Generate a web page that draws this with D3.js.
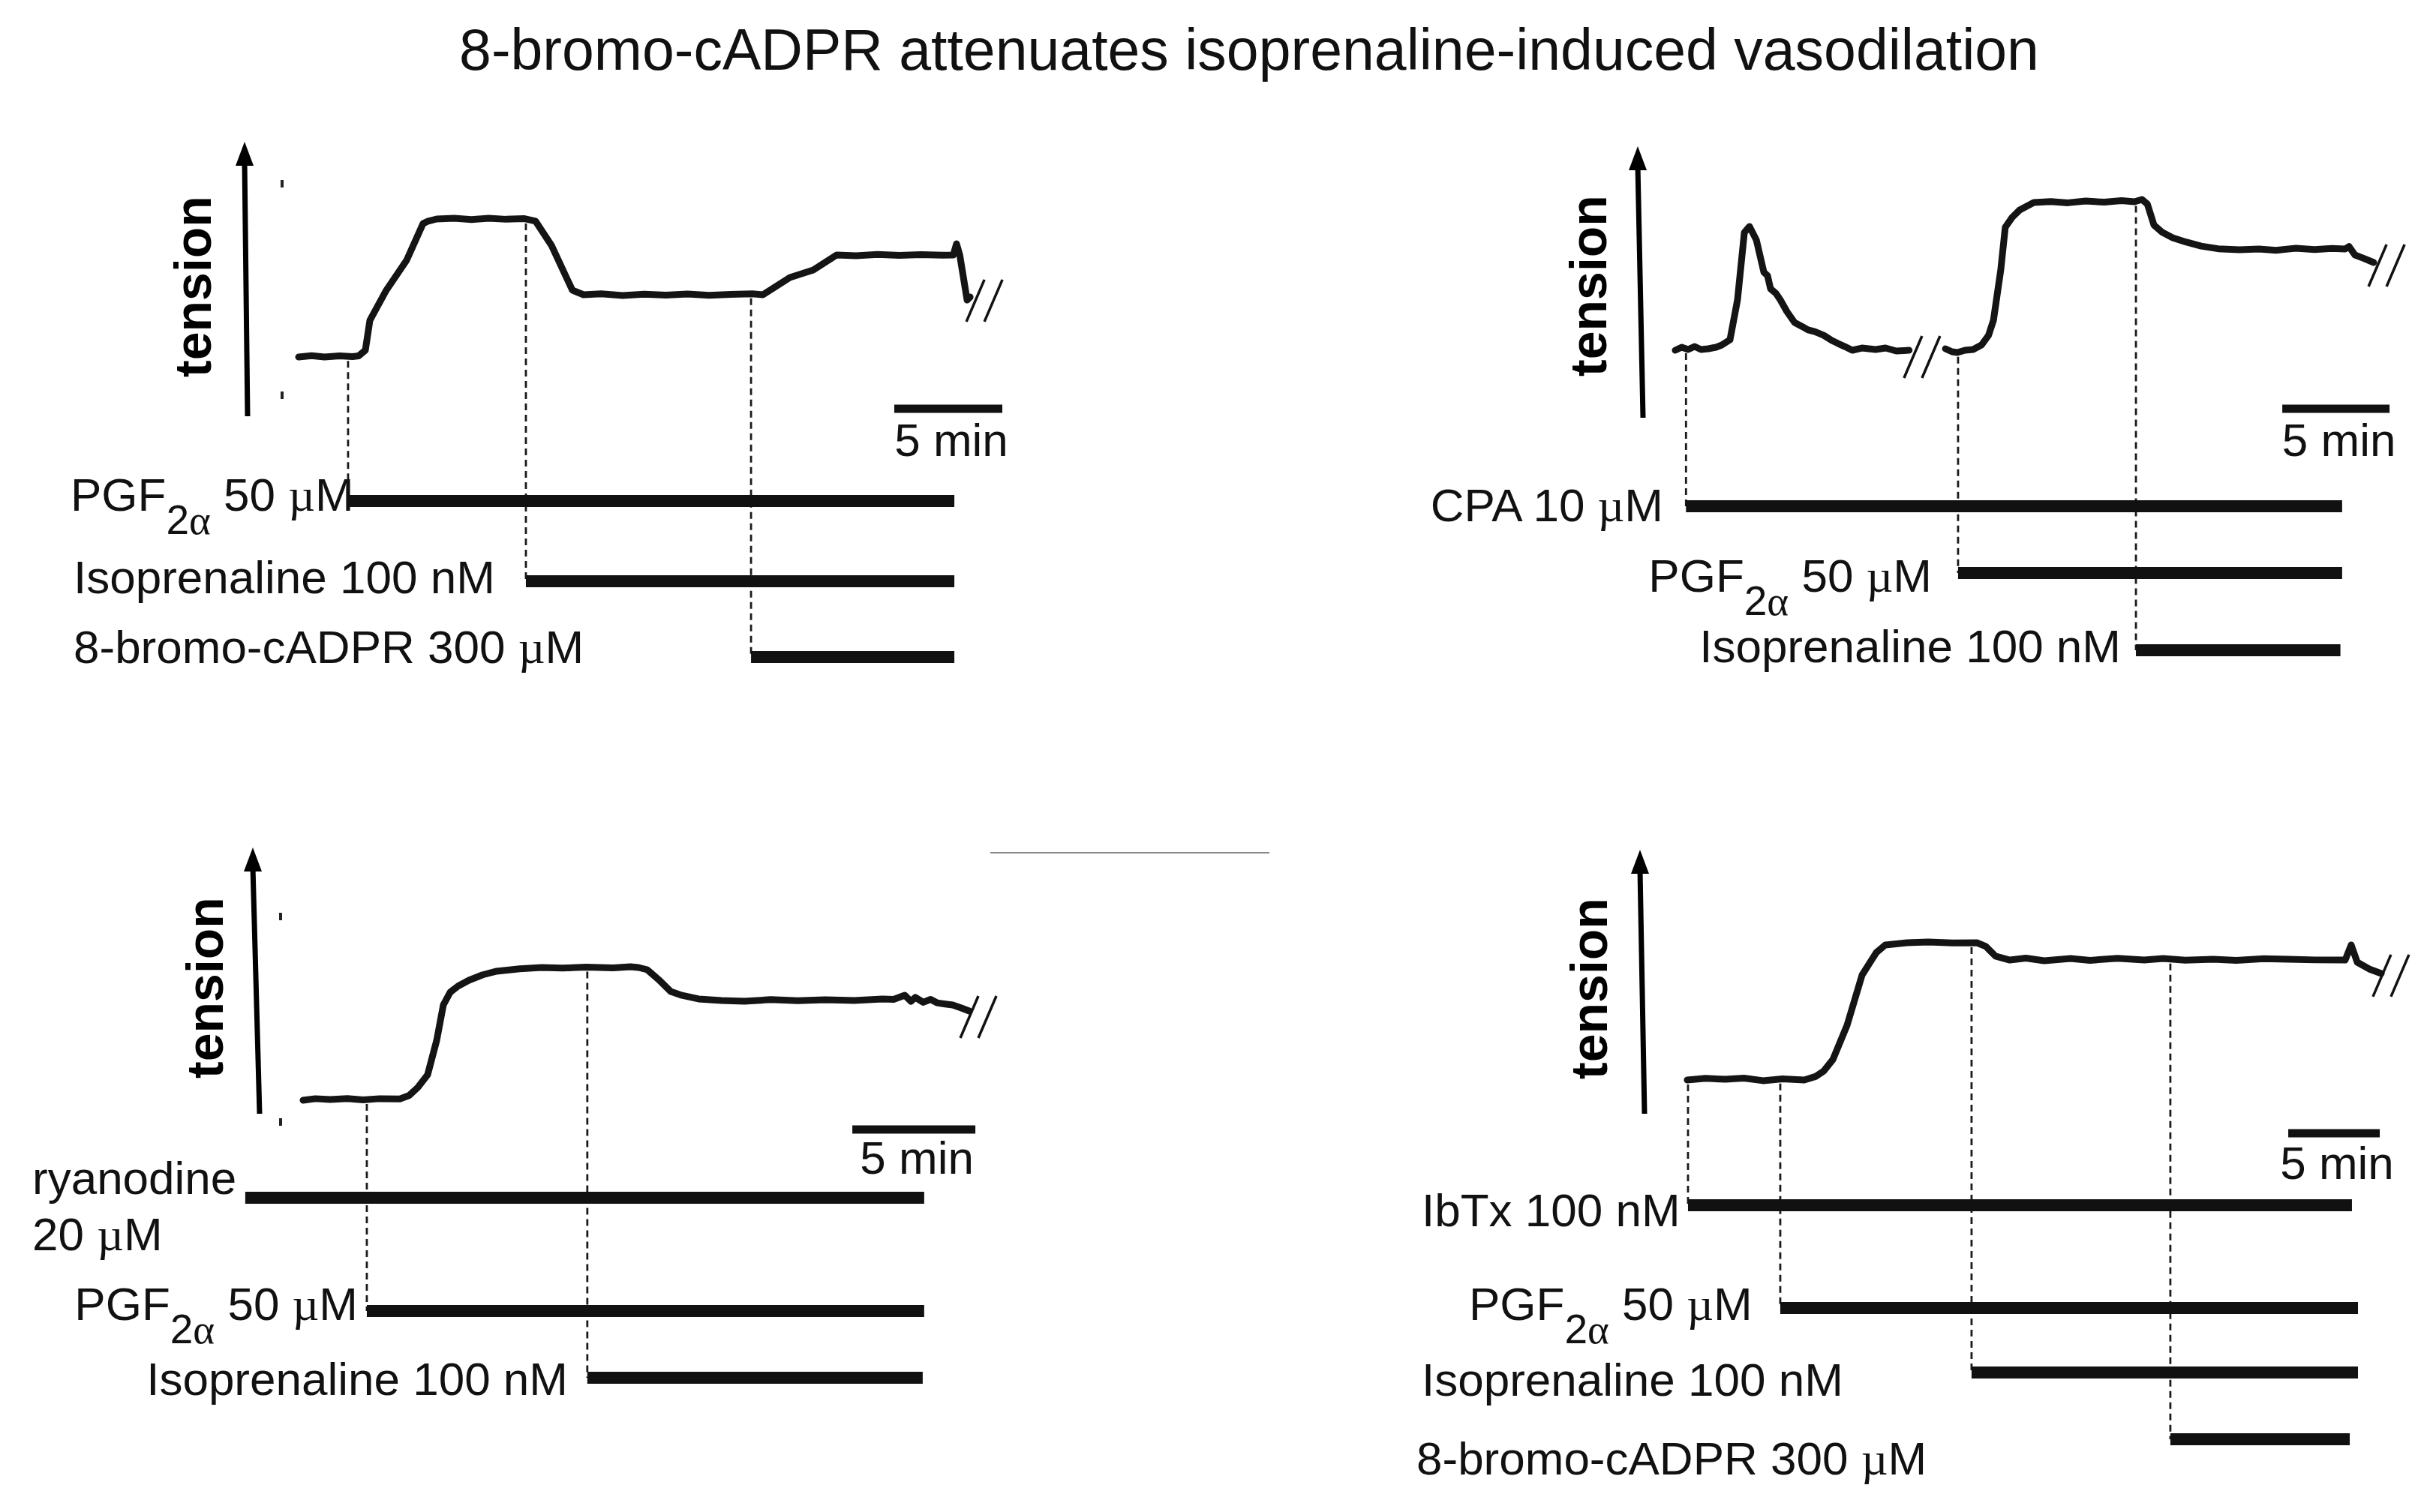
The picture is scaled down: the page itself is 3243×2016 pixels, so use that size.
<!DOCTYPE html>
<html>
<head>
<meta charset="utf-8">
<script src="https://cdn.jsdelivr.net/npm/d3@7"></script>
<style>
  body { margin: 0; background: #fff; }
  svg text { font-family: "Liberation Sans", Arial, sans-serif; fill: #111; }
</style>
</head>
<body>
<svg width="3243" height="2016"></svg>
<script>
var title = "8-bromo-cADPR attenuates isoprenaline-induced vasodilation";

// time in min, tension in % of the PGF2a plateau
// panel A: PGF2a, isoprenaline, 8-bromo-cADPR
var traceA = [[[0,0],[0.6,1],[1.2,0],[1.9,0.8],[2.5,0.3],[2.78,0.8],[3.09,4.9],[3.3,26.6],[4.06,48.4],[5.0,70.1],[5.76,96.7],[6.0,98.5],[6.39,100],[7.2,100.5],[8.0,99.6],[8.8,100.6],[9.6,99.8],[10.42,100.3],[10.97,98.4],[11.7,81],[12.67,48.4],[13.19,45.1],[14.0,45.8],[15.0,44.6],[16.0,45.5],[17.0,44.8],[18.0,45.6],[19.0,44.7],[20.0,45.4],[21.0,45.8],[21.49,45.1],[22.74,57.6],[23.82,63],[24.9,73.9],[25.8,73.4],[26.8,74.3],[27.8,73.6],[28.8,74.2],[29.8,73.8],[30.3,73.9],[30.45,82],[30.6,73.9],[30.94,41.3],[31.08,43.5]]];
var breaksA = [[31.74,40.8]];
var drugsA = ["PGF_{2α} 50 µM", "Isoprenaline 100 nM", "8-bromo-cADPR 300 µM"];
var startsA = [2.29, 10.52, 20.94];
var endsA = [30.35, 30.35, 30.35];

// panel B: CPA first, then PGF2a and isoprenaline
var traceB = [
  [[0,0],[0.3,2],[0.6,0.5],[0.9,2.5],[1.2,0.5],[1.54,1],[1.9,2],[2.17,3.5],[2.55,7],[2.9,33.7],[3.22,78.9],[3.46,82.9],[3.78,73.9],[4.13,52.3],[4.3,50],[4.44,41.2],[4.7,38],[4.9,33.7],[5.2,26],[5.56,18.6],[5.9,16],[6.19,13.6],[6.5,12.5],[6.92,10],[7.3,6.5],[7.59,4.5],[7.9,2.5],[8.25,0],[8.7,1.5],[9.34,0.5],[9.8,1.5],[10.3,-0.5],[10.9,0]],
  [[12.59,1],[12.9,-1],[13.15,-1.5],[13.5,0],[13.88,0.5],[14.27,3.5],[14.6,10],[14.83,20.1],[15.17,53.8],[15.38,82.4],[15.7,89],[16.05,94],[16.71,99],[17.5,99.6],[18.3,98.8],[19.13,100],[20.0,99.2],[20.8,100.2],[21.4,99.5],[21.75,101],[22.0,98],[22.31,83.9],[22.7,79],[23.18,75.4],[23.8,72.5],[24.51,69.8],[25.3,68],[26.29,67.3],[27.2,67.8],[28.0,67],[28.92,68.3],[29.8,67.5],[30.6,68.2],[31.22,67.8],[31.4,69.5],[31.68,63.8],[32.1,61.5],[32.55,58.8]]
];
var breaksB = [[11.5,-4.5],[33.15,56.8]];
var drugsB = ["CPA 10 µM", "PGF_{2α} 50 µM", "Isoprenaline 100 nM"];
var startsB = [0.5, 13.18, 21.47];
var endsB = [31.08, 31.08, 31.0];

// panel C: ryanodine pretreatment
var traceC = [[[0,0],[0.5,1.2],[1.1,0.5],[1.8,1.3],[2.44,0.3],[3.1,1.2],[3.93,1],[4.3,3.5],[4.66,9.6],[5.06,19.2],[5.43,45.2],[5.7,71.8],[5.98,81.4],[6.3,86],[6.74,90.4],[7.3,94.5],[7.87,97.2],[8.8,99],[9.7,100],[10.55,99.6],[11.5,100.3],[12.6,99.7],[13.3,100.6],[13.63,100],[13.99,98.3],[14.5,90],[14.94,81.9],[15.4,79],[16.07,76.3],[17.0,75.2],[17.93,74.6],[19.0,75.8],[20.1,75],[21.22,75.7],[22.4,75.2],[23.54,76.3],[24.0,76],[24.45,79.1],[24.7,74.5],[24.88,77.5],[25.2,73.8],[25.5,76],[25.76,73.4],[26.1,72.5],[26.4,71.8],[26.75,69.5],[27.07,67.2]]];
var breaksC = [[27.44,62.7]];
var drugsC = ["ryanodine\n20 µM", "PGF_{2α} 50 µM", "Isoprenaline 100 nM"];
var startsC = [-2.35, 2.59, 11.55];
var endsC = [25.24, 25.24, 25.18];

// panel D: IbTx pretreatment
var traceD = [[[0,0],[1.0,1.2],[2.09,0.5],[3.1,1.4],[4.14,-0.5],[5.2,0.8],[6.39,0],[7.0,2.5],[7.46,6.6],[7.95,14.8],[8.73,39.9],[9.55,76.5],[10.0,86],[10.33,92.9],[10.82,98.4],[12.0,100],[13.16,100.5],[14.5,99.8],[15.82,100],[16.31,97.3],[16.84,90.2],[17.62,87.4],[18.5,88.8],[19.5,86.9],[20.94,88.5],[22.0,87.2],[23.5,88.6],[24.96,87.4],[26.0,88.5],[27.2,87.3],[28.73,88],[30.0,87.2],[31.5,88.4],[32.83,88],[34.3,87.5],[35.94,87.4],[36.27,98.4],[36.6,85.8],[37.25,80.9],[37.91,77.6]]];
var breaksD = [[38.44,76]];
var drugsD = ["IbTx 100 nM", "PGF_{2α} 50 µM", "Isoprenaline 100 nM", "8-bromo-cADPR 300 µM"];
var startsD = [0.04, 5.08, 15.53, 26.39];
var endsD = [36.31, 36.64, 36.64, 36.19];

var scaleMin = 5;

// where each panel sits on the page
var panels = [
  {trace: traceA, breaks: breaksA, drugs: drugsA, starts: startsA, ends: endsA,
   x0: 398, pxMin: 28.8, yBase: 476, yTop: 292,
   arrow: [[330,555],[326,189]], tension: [257,382], ticks: [[376,245],[376,527]],
   sb: {t: 27.57, y: 545, ty: 608},
   rows: [{y:668, lx:94, ly:681, anchor:"start"}, {y:775, lx:98, ly:791, anchor:"start"}, {y:876, lx:98, ly:884, anchor:"start"}]},
  {trace: traceB, breaks: breaksB, drugs: drugsB, starts: startsB, ends: endsB,
   x0: 2233, pxMin: 28.6, yBase: 467, yTop: 268,
   arrow: [[2190,557],[2183,195]], tension: [2117,381], ticks: [],
   sb: {t: 28.29, y: 545, ty: 608},
   rows: [{y:675, lx:2217, ly:695, anchor:"end"}, {y:764, lx:2575, ly:789, anchor:"end"}, {y:867, lx:2827, ly:883, anchor:"end"}]},
  {trace: traceC, breaks: breaksC, drugs: drugsC, starts: startsC, ends: endsC,
   x0: 404, pxMin: 32.8, yBase: 1467, yTop: 1290,
   arrow: [[346,1485],[337,1130]], tension: [273,1317], ticks: [[374,1222],[374,1496]],
   sb: {t: 22.32, y: 1506, ty: 1565},
   rows: [{y:1597, lx:43, ly:1592, anchor:"start"}, {y:1748, lx:477, ly:1760, anchor:"end"}, {y:1837, lx:757, ly:1860, anchor:"end"}]},
  {trace: traceD, breaks: breaksD, drugs: drugsD, starts: startsD, ends: endsD,
   x0: 2249, pxMin: 24.4, yBase: 1440, yTop: 1257,
   arrow: [[2192,1485],[2186,1133]], tension: [2118,1318], ticks: [],
   sb: {t: 32.83, y: 1511, ty: 1572},
   rows: [{y:1607, lx:1895, ly:1635, anchor:"start"}, {y:1744, lx:1958, ly:1760, anchor:"start"}, {y:1830, lx:1895, ly:1861, anchor:"start"}, {y:1919, lx:1888, ly:1966, anchor:"start"}]}
];

var serif = "'Liberation Serif', 'Times New Roman', serif";
var svg = d3.select("svg");

svg.append("text")
  .attr("x", 1665).attr("y", 93)
  .attr("text-anchor", "middle")
  .attr("font-size", 77)
  .text(title);

// a stray rule that sits between the lower panels
svg.append("line")
  .attr("x1", 1320).attr("x2", 1692).attr("y1", 1137).attr("y2", 1137)
  .attr("stroke", "#8a8a8a").attr("stroke-width", 2);

// writes "PGF_{2α} 50 µM" with subscript and symbol-font greek
function richText(text, str) {
  var shifted = false;
  str.split(/(_\{[^}]*\}|µ|α)/).filter(Boolean).forEach(function(p) {
    if (p.indexOf("_{") === 0) {
      p.slice(2, -1).split(/(α)/).filter(Boolean).forEach(function(q, i) {
        var ts = text.append("tspan").text(q).attr("font-size", 55);
        if (q === "α") ts.attr("font-family", serif);
        if (i === 0) ts.attr("dy", 31);
      });
      shifted = true;
    } else {
      var ts = text.append("tspan").text(p);
      if (p === "µ" || p === "α") ts.attr("font-family", serif);
      if (shifted) { ts.attr("dy", -31); shifted = false; }
    }
  });
}

panels.forEach(function(p) {
  var g = svg.append("g");
  var x = d3.scaleLinear().domain([0, 40]).range([p.x0, p.x0 + 40 * p.pxMin]);
  var y = d3.scaleLinear().domain([0, 100]).range([p.yBase, p.yTop]);

  var line = d3.line()
    .x(function(d) { return x(d[0]); })
    .y(function(d) { return y(d[1]); });

  // tension arrow
  var a0 = p.arrow[0], a1 = p.arrow[1];
  g.append("line")
    .attr("x1", a0[0]).attr("y1", a0[1]).attr("x2", a1[0]).attr("y2", a1[1] + 26)
    .attr("stroke", "#000").attr("stroke-width", 7);
  g.append("path")
    .attr("d", "M" + a1[0] + "," + a1[1] + "L" + (a1[0] - 12) + "," + (a1[1] + 32) +
      "L" + (a1[0] + 12) + "," + (a1[1] + 32) + "Z")
    .attr("fill", "#000");

  g.append("text")
    .attr("transform", "translate(" + p.tension[0] + "," + p.tension[1] + ") rotate(-90)")
    .attr("text-anchor", "middle")
    .attr("dominant-baseline", "central")
    .attr("font-size", 68)
    .attr("font-weight", "bold")
    .style("fill", "#000")
    .text("tension");

  g.selectAll(".tick-dot")
    .data(p.ticks)
    .enter().append("rect")
    .attr("x", function(d) { return d[0] - 2; })
    .attr("y", function(d) { return d[1] - 5; })
    .attr("width", 4).attr("height", 10)
    .attr("fill", "#222");

  // dashed drop lines from the trace down to each drug bar
  var allPts = [].concat.apply([], p.trace);
  var bis = d3.bisector(function(d) { return d[0]; }).left;
  p.starts.forEach(function(s, i) {
    if (s < allPts[0][0]) return;
    var k = Math.min(Math.max(bis(allPts, s), 1), allPts.length - 1);
    var d0 = allPts[k - 1], d1 = allPts[k];
    var v = d0[1] + (d1[1] - d0[1]) * (s - d0[0]) / (d1[0] - d0[0]);
    g.append("line")
      .attr("x1", x(s)).attr("x2", x(s))
      .attr("y1", y(v) + 6).attr("y2", p.rows[i].y)
      .attr("stroke", "#1a1a1a").attr("stroke-width", 2.8)
      .attr("stroke-dasharray", "9,6");
  });

  g.selectAll(".trace")
    .data(p.trace)
    .enter().append("path")
    .attr("class", "trace")
    .attr("d", line)
    .attr("fill", "none")
    .attr("stroke", "#141414")
    .attr("stroke-width", 9)
    .attr("stroke-linejoin", "round")
    .attr("stroke-linecap", "round");

  // "//" break marks
  p.breaks.forEach(function(b) {
    [-12, 12].forEach(function(off) {
      g.append("line")
        .attr("x1", x(b[0]) + off - 12).attr("y1", y(b[1]) + 28)
        .attr("x2", x(b[0]) + off + 12).attr("y2", y(b[1]) - 28)
        .attr("stroke", "#111").attr("stroke-width", 3.5);
    });
  });

  // drug application bars
  p.drugs.forEach(function(name, i) {
    var r = p.rows[i];
    g.append("line")
      .attr("x1", x(p.starts[i])).attr("x2", x(p.ends[i]))
      .attr("y1", r.y).attr("y2", r.y)
      .attr("stroke", "#111").attr("stroke-width", 16);
    name.split("\n").forEach(function(ln, j) {
      var t = g.append("text")
        .attr("x", r.lx).attr("y", r.ly + j * 75)
        .attr("text-anchor", r.anchor)
        .attr("font-size", 62);
      richText(t, ln);
    });
  });

  // 5 min scale bar
  g.append("line")
    .attr("x1", x(p.sb.t)).attr("x2", x(p.sb.t + scaleMin))
    .attr("y1", p.sb.y).attr("y2", p.sb.y)
    .attr("stroke", "#111").attr("stroke-width", 11);
  g.append("text")
    .attr("x", (x(p.sb.t) + x(p.sb.t + scaleMin)) / 2 + 4)
    .attr("y", p.sb.ty)
    .attr("text-anchor", "middle")
    .attr("font-size", 62)
    .text(scaleMin + " min");
});
</script>
</body>
</html>
